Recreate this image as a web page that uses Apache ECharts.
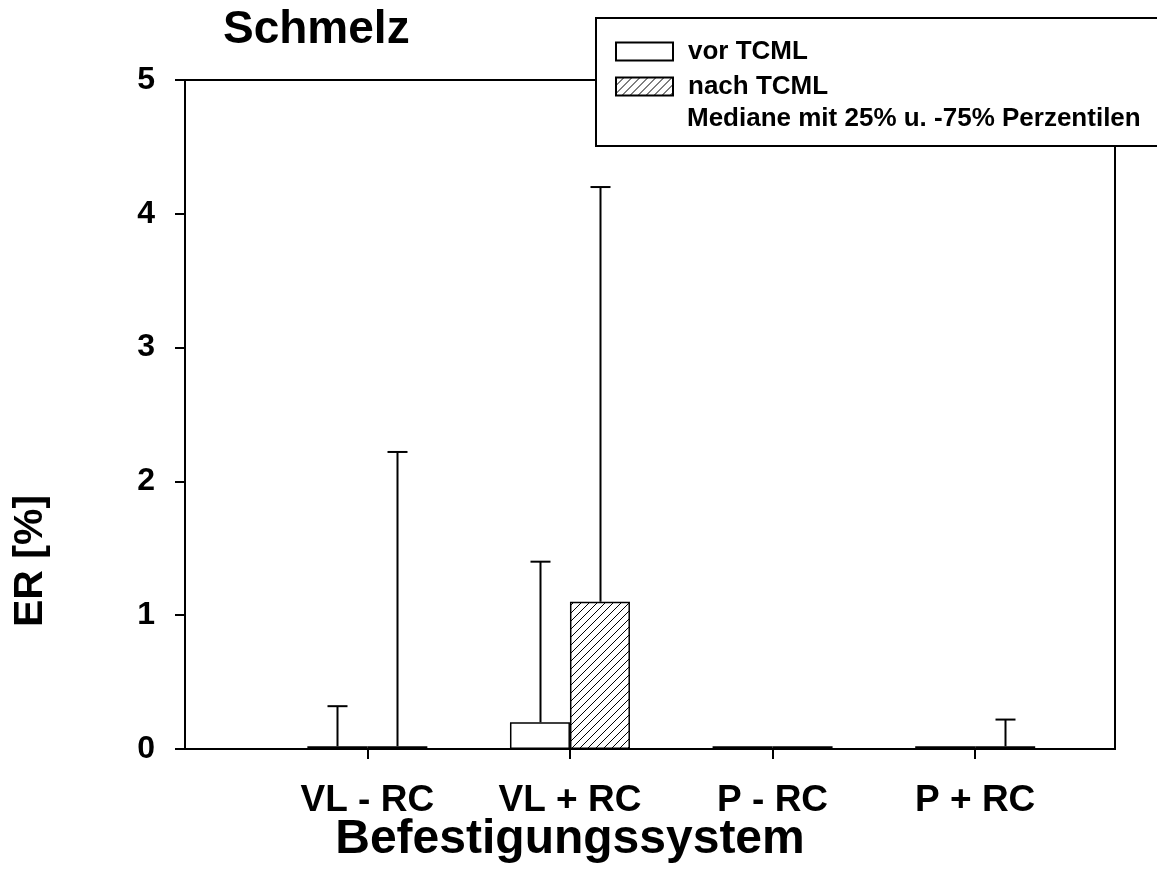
<!DOCTYPE html>
<html>
  <head>
    <meta charset="utf-8" />
    <title>Schmelz</title>
    <script src="https://cdn.jsdelivr.net/npm/echarts@6/dist/echarts.min.js"></script>
    <style>
      *{
        margin: 0;
        padding: 0;
      }
      html,
      body,
      #container {
        width: 100%;
        height: 100%;
        background: #fff;
      }
    </style>
  </head>
  <body>
    <div id="container"></div>
    <script>
      const categories = ["VL - RC", "VL + RC", "P - RC", "P + RC"];
      const positions = [1, 2, 3, 4];
      const vorMedian = [0.02, 0.2, 0.02, 0.02];
      const nachMedian = [0.02, 1.1, 0.02, 0.02];
      // obere Perzentile (75%), null = kein Fehlerbalken
      const vorUpper = [0.32, 1.4, null, null];
      const nachUpper = [2.22, 4.2, null, 0.22];
      const yTicks = [0, 1, 2, 3, 4, 5];

      const font = "Liberation Sans, Arial, sans-serif";

      // schraffur fuer "nach TCML"
      const hatch = document.createElement("canvas");
      hatch.width = 8;
      hatch.height = 8;
      const hctx = hatch.getContext("2d");
      hctx.fillStyle = "#fff";
      hctx.fillRect(0, 0, 8, 8);
      hctx.strokeStyle = "#000";
      hctx.lineWidth = 1;
      hctx.beginPath();
      hctx.moveTo(0, 8);
      hctx.lineTo(8, 0);
      hctx.moveTo(-2, 2);
      hctx.lineTo(2, -2);
      hctx.moveTo(6, 10);
      hctx.lineTo(10, 6);
      hctx.stroke();
      const hatchPattern = { image: hatch, repeat: "repeat" };

      const barData = (vals) => vals.map((v, i) => [positions[i], v]);
      const errData = (meds, ups, side) =>
        meds
          .map((m, i) => (ups[i] == null ? null : [positions[i], m, ups[i], side]))
          .filter((d) => d);

      const renderErr = (params, api) => {
        const off = api.value(3) * 30;
        const p1 = api.coord([api.value(0), api.value(1)]);
        const p2 = api.coord([api.value(0), api.value(2)]);
        const x = Math.round(p1[0] + off) + 0.5;
        const style = { stroke: "#000", lineWidth: 2 };
        return {
          type: "group",
          children: [
            { type: "line", shape: { x1: x, y1: p1[1], x2: x, y2: p2[1] }, style: style },
            { type: "line", shape: { x1: x - 10, y1: p2[1], x2: x + 10, y2: p2[1] }, style: style },
          ],
        };
      };

      var myChart = echarts.init(document.getElementById("container"));
      myChart.setOption({
        animation: false,
        backgroundColor: "#fff",
        title: {
          text: "Schmelz",
          left: 223,
          top: 7,
          padding: 0,
          textStyle: { fontFamily: font, fontSize: 46, fontWeight: "bold", color: "#000" },
        },
        grid: {
          left: 185,
          right: 42,
          top: 80,
          bottom: 144,
          show: true,
          borderColor: "#000",
          borderWidth: 2,
        },
        legend: {
          orient: "vertical",
          left: 615,
          top: 34,
          padding: 0,
          z: 20,
          itemWidth: 57,
          itemHeight: 18,
          itemGap: 0,
          textStyle: {
            fontFamily: font,
            fontSize: 26,
            fontWeight: "bold",
            color: "#000",
            lineHeight: 33,
            padding: [2, 0, 0, 10],
          },
          data: [
            { name: "vor TCML", icon: "rect" },
            { name: "nach TCML", icon: "rect" },
          ],
        },
        xAxis: {
          type: "value",
          min: 0.1,
          max: 4.69,
          splitLine: { show: false },
          axisLine: { onZero: false, lineStyle: { color: "#000", width: 2 } },
          axisTick: {
            customValues: positions,
            length: 10,
            lineStyle: { color: "#000", width: 2 },
          },
          axisLabel: {
            customValues: positions,
            margin: 33,
            fontFamily: font,
            fontSize: 37,
            fontWeight: "bold",
            color: "#000",
            formatter: (v) => categories[positions.indexOf(v)],
          },
        },
        yAxis: {
          type: "value",
          min: 0,
          max: 5,
          interval: 1,
          splitLine: { show: false },
          axisLine: { show: true, lineStyle: { color: "#000", width: 2 } },
          axisTick: { length: 10, lineStyle: { color: "#000", width: 2 } },
          axisLabel: {
            margin: 30,
            padding: [5, 0, 0, 0],
            fontFamily: font,
            fontSize: 32,
            fontWeight: "bold",
            color: "#000",
            formatter: (v) => (yTicks.indexOf(v) >= 0 ? String(v) : ""),
          },
        },
        graphic: [
          {
            type: "rect",
            z: 10,
            shape: { x: 596, y: 18, width: 600, height: 128 },
            style: { fill: "#fff", stroke: "#000", lineWidth: 2 },
          },
          {
            type: "text",
            z: 11,
            x: 687,
            y: 119,
            style: {
              text: "Mediane mit 25% u. -75% Perzentilen",
              font: "bold 26px " + font,
              fill: "#000",
              verticalAlign: "middle",
            },
          },
          {
            type: "text",
            x: 570,
            y: 840,
            style: {
              text: "Befestigungssystem",
              font: "bold 48px " + font,
              fill: "#000",
              align: "center",
              verticalAlign: "middle",
            },
          },
          {
            type: "text",
            x: 31,
            y: 561,
            rotation: Math.PI / 2,
            style: {
              text: "ER [%]",
              font: "bold 41px " + font,
              fill: "#000",
              align: "center",
              verticalAlign: "middle",
            },
          },
        ],
        series: [
          {
            name: "vor TCML",
            type: "bar",
            barWidth: 60,
            barGap: "0%",
            data: barData(vorMedian),
            itemStyle: { color: "#fff", borderColor: "#000", borderWidth: 1.5 },
          },
          {
            name: "nach TCML",
            type: "bar",
            barWidth: 60,
            barGap: "0%",
            data: barData(nachMedian),
            itemStyle: { color: hatchPattern, borderColor: "#000", borderWidth: 1.5 },
          },
          {
            name: "Fehler",
            type: "custom",
            renderItem: renderErr,
            data: errData(vorMedian, vorUpper, -1).concat(errData(nachMedian, nachUpper, 1)),
            z: 3,
          },
        ],
      });
    </script>
  </body>
</html>
